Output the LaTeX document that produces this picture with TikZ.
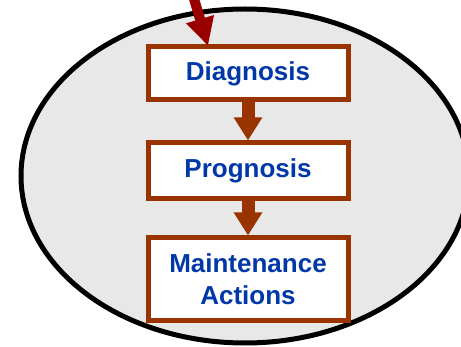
\documentclass[tikz,border=0pt]{standalone}
\usepackage{fontspec}
\setmainfont{Liberation Sans}
\usetikzlibrary{arrows.meta}
\definecolor{boxedge}{HTML}{993300}
\definecolor{labelblue}{HTML}{0038A8}
\definecolor{cyclefill}{HTML}{E8E8E8}
\definecolor{inred}{HTML}{990000}
\begin{document}
\begin{tikzpicture}[x=1pt,y=-1pt,
  stagebox/.style={draw=boxedge, line width=5pt, fill=white, minimum width=200pt,
    inner sep=0pt, align=center, text=labelblue,
    font=\fontsize{26}{32}\selectfont\bfseries},
  flow/.style={draw=boxedge, line width=13pt,
    -{Triangle[length=23pt,width=27pt]}}]
\useasboundingbox (0,0) rectangle (461,347);
% background cycle
\draw[fill=cyclefill, line width=5pt] (245,176) ellipse [x radius=224, y radius=167];
% stages
\node[stagebox, minimum height=53pt] (diag) at (248,73.5) {Diagnosis};
\node[stagebox, minimum height=56pt] (prog) at (248,171) {Prognosis};
\node[stagebox, minimum height=83pt] (act) at (248,279.5) {Maintenance\\Actions};
% flow between stages
\draw[flow] (diag.south) -- (prog.north);
\draw[flow] (prog.south) -- (act.north);
% incoming arrow
\coordinate (src) at (192,-8);
\coordinate (hit) at (208,46);
\draw[draw=inred, line width=10pt, -{Triangle[length=28pt,width=27pt]}] (src) -- (hit);
\end{tikzpicture}
\end{document}
